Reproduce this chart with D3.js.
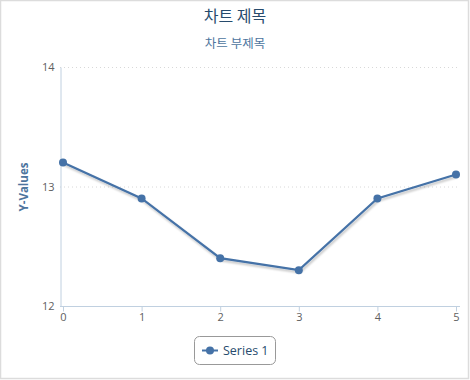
<!DOCTYPE html>
<html><head><meta charset="utf-8">
<script src="https://cdn.jsdelivr.net/npm/d3@7"></script>
<style>
html,body{margin:0;padding:0;background:#fff;}
svg{display:block;font-family:"Noto Sans CJK KR","Open Sans",sans-serif;}
</style></head>
<body>
<svg id="c" width="470" height="380"></svg>
<script>
const categories = [0, 1, 2, 3, 4, 5];
const values = [13.2, 12.9, 12.4, 12.3, 12.9, 13.1];
const yTicks = [12, 13, 14];
const title = "차트 제목";
const subtitle = "차트 부제목";
const yTitle = "Y-Values";
const seriesName = "Series 1";

const svg = d3.select("#c");
const color = "#4572a7";

svg.append("rect").attr("x",0.5).attr("y",0.5).attr("width",468).attr("height",378)
  .attr("fill","#fff").attr("stroke","#dcdcdc").attr("stroke-width",1.5);

const defs = svg.append("defs");
const f = defs.append("filter").attr("id","sh").attr("x","-10%").attr("y","-10%").attr("width","120%").attr("height","130%");
f.append("feGaussianBlur").attr("in","SourceAlpha").attr("stdDeviation",1.2).attr("result","b");
f.append("feOffset").attr("in","b").attr("dx",1).attr("dy",2).attr("result","o");
f.append("feComponentTransfer").attr("in","o").attr("result","o2").append("feFuncA").attr("type","linear").attr("slope",0.25);
const m = f.append("feMerge"); m.append("feMergeNode").attr("in","o2"); m.append("feMergeNode").attr("in","SourceGraphic");

svg.append("text").attr("x",235).attr("y",22).attr("text-anchor","middle")
  .attr("font-size",16).attr("fill","#274b6d").text(title);
svg.append("text").attr("x",235).attr("y",48).attr("text-anchor","middle")
  .attr("font-size",12.5).attr("fill","#4d759e").text(subtitle);

const x = d3.scaleLinear().domain([0,5]).range([63,456]);
const y = d3.scaleLinear().domain([12,14]).range([306,67]);

// grid
svg.append("g").selectAll("line").data(yTicks.filter(t=>t!==12)).join("line")
  .attr("x1",60).attr("x2",460).attr("y1",d=>y(d)+0.5).attr("y2",d=>y(d)+0.5)
  .attr("stroke","#d8d8d8").attr("stroke-dasharray","1,3");

// axes
const xa = svg.append("g").attr("transform","translate(0,306.5)")
  .call(d3.axisBottom(x).tickValues(categories).tickSize(5).tickPadding(2).tickFormat(d3.format("d")));
xa.select(".domain").attr("d","M60,0H460").attr("stroke","#c0d0e0");
xa.selectAll(".tick line").attr("stroke","#c0d0e0");
xa.selectAll(".tick text").attr("fill","#606060").attr("font-size",11).attr("font-family","Open Sans, sans-serif");

const ya = svg.append("g").attr("transform","translate(60.5,0)")
  .call(d3.axisLeft(y).tickValues(yTicks).tickSize(0).tickPadding(6).tickFormat(d3.format("d")));
ya.select(".domain").attr("stroke","#c0d0e0");
ya.selectAll(".tick text").attr("fill","#606060").attr("font-size",11).attr("font-family","Open Sans, sans-serif");

svg.append("text").attr("transform","translate(28,187) rotate(-90)").attr("text-anchor","middle")
  .attr("font-size",11.5).attr("font-weight","bold").attr("fill","#4d759e")
  .attr("font-family","Open Sans, sans-serif").text(yTitle);

// line
const line = d3.line().x((d,i)=>x(categories[i])).y(d=>y(d));
svg.append("path").datum(values).attr("d",line).attr("fill","none")
  .attr("stroke",color).attr("stroke-width",2.2).attr("filter","url(#sh)");
svg.append("g").selectAll("circle").data(values).join("circle")
  .attr("cx",(d,i)=>x(categories[i])).attr("cy",d=>y(d)).attr("r",4).attr("fill",color);

// legend
const lg = svg.append("g");
lg.append("rect").attr("x",194.5).attr("y",336.5).attr("width",81).attr("height",28).attr("rx",5)
  .attr("fill","#fff").attr("stroke","#999");
lg.append("line").attr("x1",202).attr("x2",218).attr("y1",350.5).attr("y2",350.5).attr("stroke",color).attr("stroke-width",2);
lg.append("circle").attr("cx",210).attr("cy",350.5).attr("r",4).attr("fill",color);
lg.append("text").attr("x",223).attr("y",355).attr("font-size",12.5).attr("fill","#274b6d")
  .attr("font-family","Open Sans, sans-serif").text(seriesName);
</script>
</body></html>
